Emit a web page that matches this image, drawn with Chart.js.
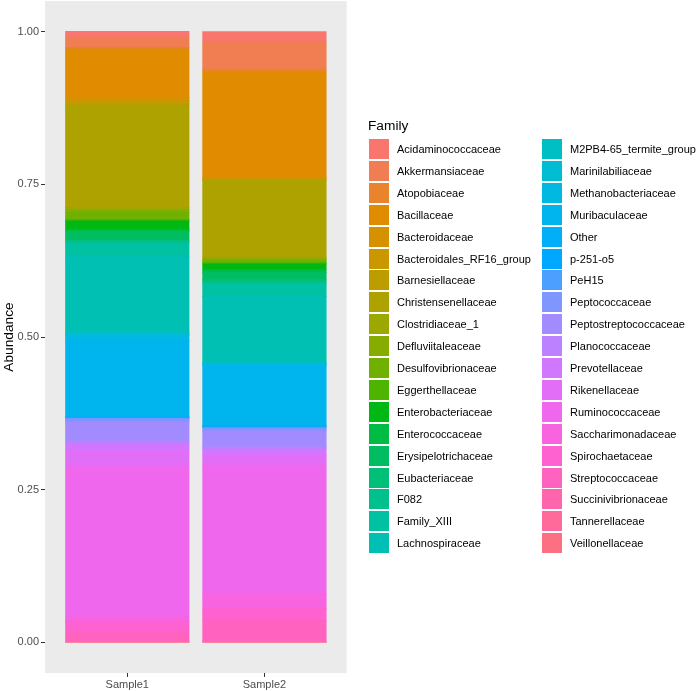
<!DOCTYPE html>
<html>
<head>
<meta charset="utf-8">
<script src="https://cdn.jsdelivr.net/npm/chart.js@4"></script>
<style>
  body { margin: 0; background: #fff; }
  #wrap { position: relative; width: 700px; height: 691px; font-family: "Liberation Sans", Arial, sans-serif; }
  #chart { position: absolute; left: 0; top: 0; }
  #legend { position: absolute; left: 0; top: 0; width: 700px; height: 691px; pointer-events: none; }
  .legend-title { position: absolute; left: 368px; top: 118px; font-size: 13.7px; line-height: 16px; color: #000; }
  .legend-item { position: absolute; height: 20px; display: flex; align-items: center; font-size: 11px; color: #000; white-space: nowrap; }
  .legend-key { width: 20px; height: 20px; margin-right: 8px; flex: none; }
</style>
</head>
<body>
<div id="wrap">
  <canvas id="chart" width="700" height="691"></canvas>
  <div id="legend"></div>
</div>
<script>
const families = [
  'Acidaminococcaceae', 'Akkermansiaceae', 'Atopobiaceae', 'Bacillaceae', 'Bacteroidaceae',
  'Bacteroidales_RF16_group', 'Barnesiellaceae', 'Christensenellaceae', 'Clostridiaceae_1',
  'Defluviitaleaceae', 'Desulfovibrionaceae', 'Eggerthellaceae', 'Enterobacteriaceae',
  'Enterococcaceae', 'Erysipelotrichaceae', 'Eubacteriaceae', 'F082', 'Family_XIII',
  'Lachnospiraceae', 'M2PB4-65_termite_group', 'Marinilabiliaceae', 'Methanobacteriaceae',
  'Muribaculaceae', 'Other', 'p-251-o5', 'PeH15', 'Peptococcaceae', 'Peptostreptococcaceae',
  'Planococcaceae', 'Prevotellaceae', 'Rikenellaceae', 'Ruminococcaceae', 'Saccharimonadaceae',
  'Spirochaetaceae', 'Streptococcaceae', 'Succinivibrionaceae', 'Tannerellaceae', 'Veillonellaceae'
];

const samples = ['Sample1', 'Sample2'];

// relative abundance per family, same order as families
const sample1 = [
  0.0098, 0.0164, 0.0026, 0.0791, 0.0049,
  0.0049, 0.0026, 0.1677, 0.0040,
  0.0040, 0.0119, 0.0020, 0.0144,
  0.0030, 0.0138, 0.0020, 0.0050, 0.0203,
  0.1238, 0.0020, 0.0030, 0.0086,
  0.1243, 0.0020, 0.0010, 0.0008, 0.0050, 0.0321,
  0.0030, 0.0120, 0.0242, 0.2480, 0.0082,
  0.0164, 0.0158, 0.0005, 0.0005, 0.0005
];

const sample2 = [
  0.0164, 0.0450, 0.0050, 0.1720, 0.0020,
  0.0020, 0.0010, 0.1258, 0.0030,
  0.0020, 0.0040, 0.0020, 0.0100,
  0.0040, 0.0120, 0.0030, 0.0040, 0.0205,
  0.1080, 0.0020, 0.0010, 0.0020,
  0.0980, 0.0020, 0.0010, 0.0020, 0.0040, 0.0260,
  0.0040, 0.0096, 0.0164, 0.2117, 0.0230,
  0.0200, 0.0340, 0.0006, 0.0005, 0.0005
];

const yTicks = [0, 0.25, 0.5, 0.75, 1];

// ggplot default hue palette (polar LUV -> sRGB)
function hcl(h, c, l) {
  const WX = 95.047, WY = 100, WZ = 108.883;
  const rad = h * Math.PI / 180;
  const U = c * Math.cos(rad), V = c * Math.sin(rad);
  const Y = WY * Math.pow((l + 16) / 116, 3);
  const d = WX + 15 * WY + 3 * WZ;
  const u = U / (13 * l) + 4 * WX / d;
  const v = V / (13 * l) + 9 * WY / d;
  const X = 9 * Y * u / (4 * v);
  const Z = -X / 3 - 5 * Y + 3 * Y / v;
  const gam = x => x > 0.00304 ? 1.055 * Math.pow(x, 1 / 2.4) - 0.055 : 12.92 * x;
  const ch = x => Math.round(Math.min(1, Math.max(0, gam(x / WY))) * 255);
  const r = ch(3.240479 * X - 1.537150 * Y - 0.498535 * Z);
  const g = ch(-0.969256 * X + 1.875992 * Y + 0.041556 * Z);
  const b = ch(0.055648 * X - 0.204043 * Y + 1.057311 * Z);
  return `rgb(${r}, ${g}, ${b})`;
}

const colors = families.map((_, i) => hcl(15 + i * 360 / families.length, 100, 65));

// first family sits on top, so stack in reverse order
const datasets = families.map((name, i) => ({
  label: name,
  data: [{ x: 1, y: sample1[i] }, { x: 2, y: sample2[i] }],
  backgroundColor: colors[i],
  borderWidth: 0,
  inflateAmount: 0.4,
  barPercentage: 0.9,
  categoryPercentage: 1
})).reverse();

const panelBackground = {
  id: 'panelBackground',
  beforeDraw(chart) {
    const { ctx, chartArea } = chart;
    ctx.save();
    ctx.fillStyle = '#EBEBEB';
    ctx.fillRect(chartArea.left, chartArea.top, chartArea.right - chartArea.left, chartArea.bottom - chartArea.top);
    ctx.restore();
  }
};

const tickFont = { family: '"Liberation Sans", Arial, sans-serif', size: 11 };

new Chart(document.getElementById('chart').getContext('2d'), {
  type: 'bar',
  data: { datasets },
  options: {
    responsive: false,
    animation: false,
    devicePixelRatio: 1,
    layout: { padding: { top: 1, right: 353.3, bottom: 0, left: 0 } },
    plugins: {
      legend: { display: false },
      tooltip: { enabled: false }
    },
    scales: {
      x: {
        type: 'linear',
        stacked: true,
        offset: false,
        min: 0.4,
        max: 2.6,
        afterBuildTicks: scale => { scale.ticks = samples.map((_, i) => ({ value: i + 1 })); },
        afterFit: scale => { scale.height = 18; scale.paddingLeft = 0; scale.paddingRight = 0; },
        grid: { offset: false, drawOnChartArea: false, drawTicks: true, tickLength: 4, color: '#333333' },
        border: { display: false },
        ticks: {
          padding: 1,
          color: '#4D4D4D',
          font: tickFont,
          maxRotation: 0,
          callback: value => samples[value - 1]
        }
      },
      y: {
        stacked: true,
        min: -0.05,
        max: 1.05,
        afterBuildTicks: scale => { scale.ticks = yTicks.map(v => ({ value: v })); },
        afterFit: scale => { scale.width = 45; scale.paddingTop = 0; scale.paddingBottom = 0; },
        grid: { drawOnChartArea: false, drawTicks: true, tickLength: 4, color: '#333333' },
        border: { display: false },
        ticks: {
          padding: 2,
          color: '#4D4D4D',
          font: tickFont,
          callback: value => value.toFixed(2)
        },
        title: {
          display: true,
          text: 'Abundance',
          color: '#000',
          font: { family: '"Liberation Sans", Arial, sans-serif', size: 13.7 },
          padding: { top: 1, bottom: 0 }
        }
      }
    }
  },
  plugins: [panelBackground]
});

// legend in two columns like ggplot's guide
const legend = document.getElementById('legend');
const title = document.createElement('div');
title.className = 'legend-title';
title.textContent = 'Family';
legend.appendChild(title);

const perColumn = Math.ceil(families.length / 2);
families.forEach((name, i) => {
  const col = Math.floor(i / perColumn);
  const row = i % perColumn;
  const item = document.createElement('div');
  item.className = 'legend-item';
  item.style.left = (col === 0 ? 369 : 542) + 'px';
  item.style.top = (139 + row * 21.9) + 'px';
  const key = document.createElement('span');
  key.className = 'legend-key';
  key.style.background = colors[i];
  const label = document.createElement('span');
  label.textContent = name;
  item.appendChild(key);
  item.appendChild(label);
  legend.appendChild(item);
});
</script>
</body>
</html>
